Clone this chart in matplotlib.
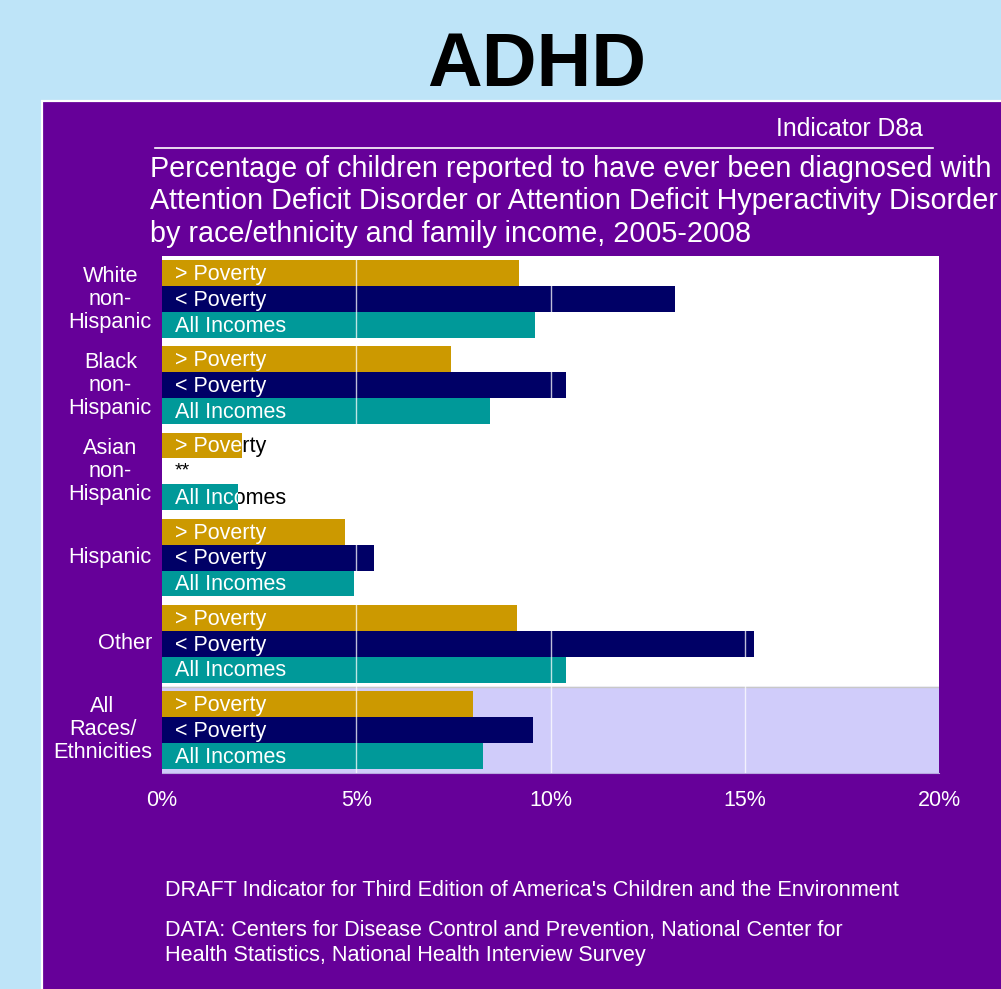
import matplotlib
matplotlib.use("Agg")
import matplotlib.pyplot as plt
from matplotlib.patches import Rectangle
from matplotlib.transforms import blended_transform_factory

plt.rcParams['font.family'] = ['Liberation Sans', 'DejaVu Sans']

# Data: percentage of children ever diagnosed with ADD/ADHD, 2005-2008
groups = ["White\nnon-\nHispanic", "Black\nnon-\nHispanic", "Asian\nnon-\nHispanic",
          "Hispanic", "Other", "All\nRaces/\nEthnicities"]
series = ["> Poverty", "< Poverty", "All Incomes"]
above_poverty = [9.2, 7.45, 2.05, 4.7, 9.15, 8.0]
below_poverty = [13.2, 10.4, None, 5.45, 15.25, 9.55]   # None: estimate not reported (**)
all_incomes = [9.6, 8.45, 1.95, 4.95, 10.4, 8.25]
xticks = [0, 5, 10, 15, 20]

colors = ["#CC9900", "#000066", "#009999"]
purple = "#660099"
lightblue = "#BEE4F8"
lavender = "#D0CCFA"

W, H = 1001, 989
fig = plt.figure(figsize=(W / 100, H / 100), dpi=100)
fig.patch.set_facecolor(lightblue)

# purple panel with white border
panel = Rectangle((42 / W, -0.02), 1.0, 1 - 101 / H + 0.02, transform=fig.transFigure,
                  facecolor=purple, edgecolor="white", linewidth=1.6, zorder=-5)
fig.patches.append(panel)

fig.text(537 / W, 1 - 66 / H, "ADHD", ha="center", va="center",
         fontsize=54.5, fontweight="bold", color="black")
fig.text(923 / W, 1 - 129 / H, "Indicator D8a", ha="right", va="center",
         fontsize=17.8, color="white")
fig.add_artist(plt.Line2D([155 / W, 933 / W], [1 - 148 / H, 1 - 148 / H],
                          transform=fig.transFigure, color="white", lw=1.2))
fig.text(150 / W, 1 - 155 / H,
         "Percentage of children reported to have ever been diagnosed with\n"
         "Attention Deficit Disorder or Attention Deficit Hyperactivity Disorder\n"
         "by race/ethnicity and family income, 2005-2008",
         ha="left", va="top", fontsize=20.7, color="white", linespacing=1.2)

ax = fig.add_axes([162 / W, 1 - 773 / H, (939 - 162) / W, (773 - 256) / H])
ax.set_facecolor("white")
ax.set_xlim(0, 20)
ax.set_ylim(6, 0)
ax.axhspan(5, 6, color=lavender, zorder=0)
ax.axhline(5, color="#C8C8C8", lw=1, zorder=0.5)

bar_h = 0.3
offsets = [-0.3, 0.0, 0.3]
values = [above_poverty, below_poverty, all_incomes]

for si, (name, vals, col) in enumerate(zip(series, values, colors)):
    for gi, v in enumerate(vals):
        yc = gi + 0.5 + offsets[si]
        if v is None:
            ax.annotate("**", xy=(0, yc), xytext=(9.4, 0), textcoords="offset points",
                        ha="left", va="center", fontsize=14, color="black")
            continue
        bar = ax.barh(yc, v, height=bar_h, color=col, zorder=2)[0]
        # white label over the bar, black where it runs past the bar end
        t_in = ax.annotate(name, xy=(0, yc), xytext=(9.4, -1), textcoords="offset points",
                           ha="left", va="center", fontsize=15.5, color="white", zorder=4)
        t_in.set_clip_path(bar)
        outside = Rectangle((v, yc - bar_h / 2), 20 - v, bar_h, transform=ax.transData)
        t_out = ax.annotate(name, xy=(0, yc), xytext=(9.4, -1), textcoords="offset points",
                            ha="left", va="center", fontsize=15.5, color="black", zorder=4)
        t_out.set_clip_path(outside)

for x in xticks[1:-1]:
    ax.axvline(x, color="white", alpha=0.75, lw=1, zorder=3)

ax.set_xticks(xticks)
ax.set_xticklabels([f"{x}%" for x in xticks])
ax.tick_params(axis="x", length=0, pad=12, labelsize=15.5, labelcolor="white")
ax.set_yticks([])
for s in ["top", "right", "left"]:
    ax.spines[s].set_visible(False)
ax.spines["bottom"].set_color("#B8A8E0")

trans = blended_transform_factory(fig.transFigure, ax.transData)
for gi, g in enumerate(groups):
    ax.text(152 / W, gi + 0.5, g, transform=trans, ha="right", va="center",
            multialignment="center", fontsize=15.7, color="white", linespacing=1.12)

fig.text(165 / W, 1 - 890 / H,
         "DRAFT Indicator for Third Edition of America's Children and the Environment",
         ha="left", va="center", fontsize=15.6, color="white")
fig.text(165 / W, 1 - 920 / H,
         "DATA: Centers for Disease Control and Prevention, National Center for\n"
         "Health Statistics, National Health Interview Survey",
         ha="left", va="top", fontsize=15.6, color="white", linespacing=1.25)

fig.savefig("out.png", dpi=100, facecolor=fig.get_facecolor())
